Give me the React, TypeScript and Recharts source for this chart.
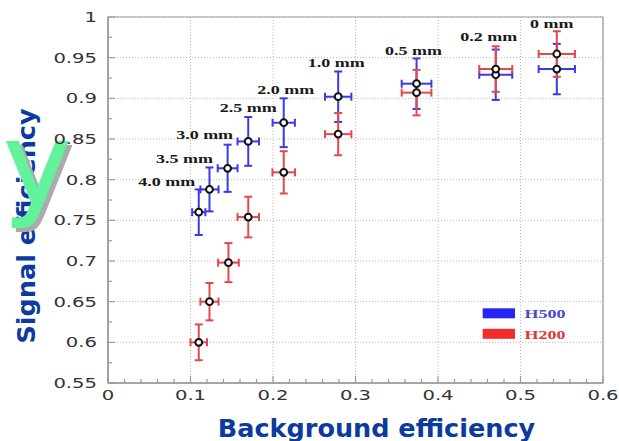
import React from 'react';
import {
  ScatterChart,
  Scatter,
  XAxis,
  YAxis,
  CartesianGrid,
  ErrorBar,
  ReferenceArea,
  Legend,
} from 'recharts';

// Distance-cut labels, one per working point
const gapTags = ['4.0 mm', '3.5 mm', '3.0 mm', '2.5 mm', '2.0 mm', '1.0 mm', '0.5 mm', '0.2 mm', '0 mm'];

// H500 sample
const bgH500 = [0.11, 0.123, 0.145, 0.17, 0.213, 0.279, 0.374, 0.47, 0.544];
const bgErrH500 = [0.008, 0.011, 0.012, 0.013, 0.0135, 0.016, 0.018, 0.02, 0.022];
const sigH500 = [0.76, 0.788, 0.814, 0.847, 0.87, 0.902, 0.918, 0.929, 0.936];
const sigErrH500 = [0.028, 0.027, 0.029, 0.03, 0.03, 0.031, 0.031, 0.031, 0.031];

// H200 sample
const bgH200 = [0.11, 0.123, 0.146, 0.17, 0.213, 0.279, 0.374, 0.47, 0.544];
const bgErrH200 = [0.01, 0.011, 0.0125, 0.013, 0.0137, 0.016, 0.018, 0.02, 0.022];
const sigH200 = [0.6, 0.65, 0.698, 0.754, 0.809, 0.856, 0.907, 0.936, 0.9545];
const sigErrH200 = [0.022, 0.023, 0.024, 0.025, 0.026, 0.026, 0.028, 0.028, 0.028];

// Legend order
const seriesNames = ['H500', 'H200'];

// Axis ticks
const xMajorTicks = [0, 0.1, 0.2, 0.3, 0.4, 0.5, 0.6];
const xTickLabels = ['0', '0.1', '0.2', '0.3', '0.4', '0.5', '0.6'];
const xMinorTicks = [
  0.02, 0.04, 0.06, 0.08, 0.12, 0.14, 0.16, 0.18, 0.22, 0.24, 0.26, 0.28,
  0.32, 0.34, 0.36, 0.38, 0.42, 0.44, 0.46, 0.48, 0.52, 0.54, 0.56, 0.58,
];
const yMajorTicks = [0.55, 0.6, 0.65, 0.7, 0.75, 0.8, 0.85, 0.9, 0.95, 1];
const yTickLabels = ['0.55', '0.6', '0.65', '0.7', '0.75', '0.8', '0.85', '0.9', '0.95', '1'];
const yMinorTicks = [0.575, 0.625, 0.675, 0.725, 0.775, 0.825, 0.875, 0.925, 0.975];

const SERIES_COLORS: Record<string, string> = { H500: '#3a3ae6', H200: '#e6474c' };
const LEGEND_COLORS: Record<string, string> = { H500: '#2424f5', H200: '#f52a2e' };
const LEGEND_TEXT: Record<string, string> = { H500: '#4a4ad0', H200: '#e0383c' };
const AXIS_COLOR = '#9a9a9a';
const TITLE_COLOR = '#0b3b9c';

// Text placement of each distance tag relative to its H500 point (px)
const TAG_OFFSET: Record<string, [number, number]> = {
  '4.0 mm': [-32, -30],
  '3.5 mm': [-25, -30],
  '3.0 mm': [-23, -33],
  '2.5 mm': [0, -33],
  '2.0 mm': [2, -33],
  '1.0 mm': [-2, -34],
  '0.5 mm': [-3, -33],
  '0.2 mm': [-7, -38],
  '0 mm': [-5, -45],
};

const h500Data = gapTags.map((tag, i) => ({
  tag,
  bg: bgH500[i],
  bgErr: bgErrH500[i],
  sig: sigH500[i],
  sigErr: sigErrH500[i],
}));

const h200Data = gapTags.map((tag, i) => ({
  tag,
  bg: bgH200[i],
  bgErr: bgErrH200[i],
  sig: sigH200[i],
  sigErr: sigErrH200[i],
}));

const xTicks = [...xMajorTicks, ...xMinorTicks].sort((a, b) => a - b);
const yTicks = [...yMajorTicks, ...yMinorTicks].sort((a, b) => a - b);

const tickFont = { fontFamily: 'DejaVu Sans, Verdana, sans-serif', fontSize: 14, fill: '#333' };

const XTick = (props: any) => {
  const { x, y, payload } = props;
  const i = xMajorTicks.indexOf(payload.value);
  if (i < 0) {
    return <line x1={x} x2={x} y1={y} y2={y - 4} stroke={AXIS_COLOR} strokeWidth={1.2} />;
  }
  return (
    <g>
      <line x1={x} x2={x} y1={y} y2={y - 7} stroke={AXIS_COLOR} strokeWidth={1.2} />
      <text transform={`translate(${x},${y + 16.5}) scale(1.4,1)`} textAnchor="middle" {...tickFont}>
        {xTickLabels[i]}
      </text>
    </g>
  );
};

const YTick = (props: any) => {
  const { x, y, payload } = props;
  const i = yMajorTicks.indexOf(payload.value);
  if (i < 0) {
    return <line x1={x} x2={x + 4} y1={y} y2={y} stroke={AXIS_COLOR} strokeWidth={1.2} />;
  }
  return (
    <g>
      <line x1={x} x2={x + 7} y1={y} y2={y} stroke={AXIS_COLOR} strokeWidth={1.2} />
      <text transform={`translate(${x - 11},${y + 5}) scale(1.4,1)`} textAnchor="end" {...tickFont}>
        {yTickLabels[i]}
      </text>
    </g>
  );
};

const Empty = () => <g />;

const Ring = (props: any) => (
  <circle cx={props.cx} cy={props.cy} r={3.4} fill="#fff" stroke="#111" strokeWidth={2} />
);

const RingWithTag = (props: any) => {
  const { cx, cy, payload } = props;
  const [dx, dy] = TAG_OFFSET[payload.tag] ?? [0, -30];
  return (
    <g>
      <Ring cx={cx} cy={cy} />
      <text
        transform={`translate(${cx + dx},${cy + dy + 4}) scale(1.5,1)`}
        textAnchor="middle"
        fontFamily="Liberation Serif, Times New Roman, serif"
        fontWeight="bold"
        fontSize={12}
        fill="#1a1a1a"
      >
        {payload.tag}
      </text>
    </g>
  );
};

const XTitle = (props: any) => {
  const vb = props.viewBox;
  return (
    <text
      x={vb.x + vb.width / 2 + 21}
      y={vb.y + 54}
      textAnchor="middle"
      fontFamily="DejaVu Sans, Verdana, sans-serif"
      fontWeight="bold"
      fontSize={25.5}
      fill={TITLE_COLOR}
    >
      Background efficiency
    </text>
  );
};

const YTitle = (props: any) => {
  const vb = props.viewBox;
  const cy = vb.y + vb.height / 2 + 26;
  return (
    <g>
      <text
        transform={`translate(34.5,${cy}) rotate(-90)`}
        textAnchor="middle"
        fontFamily="DejaVu Sans, Verdana, sans-serif"
        fontWeight="bold"
        fontSize={25.5}
        fill={TITLE_COLOR}
      >
        Signal efficiency
      </text>
      <text x={8} y={208} fontFamily="DejaVu Sans, sans-serif" fontSize={112} fill="#ababab" stroke="#ababab" strokeWidth={2}>
        y
      </text>
      <text x={4} y={204} fontFamily="DejaVu Sans, sans-serif" fontSize={112} fill="#62f29c" stroke="#62f29c" strokeWidth={2}>
        y
      </text>
    </g>
  );
};

const LegendBox = (props: any) => {
  const entries = (props.payload || []).filter((p: any) => p.type !== 'none');
  const items = seriesNames
    .map((name) => entries.find((p: any) => p.value === name))
    .filter(Boolean);
  return (
    <svg width={110} height={42} style={{ display: 'block' }}>
      {items.map((p: any, i: number) => (
        <g key={p.value} transform={`translate(0,${i * 20.5})`}>
          <rect x={0.7} y={2.3} width={32.3} height={10} fill={LEGEND_COLORS[p.value] ?? p.color} />
          <text
            transform={`translate(42.5,12.3) scale(1.5,1)`}
            fontFamily="Liberation Serif, Times New Roman, serif"
            fontWeight="bold"
            fontSize={12}
            fill={LEGEND_TEXT[p.value] ?? p.color}
          >
            {p.value}
          </text>
        </g>
      ))}
    </svg>
  );
};

export default function App() {
  return (
    <div style={{ width: 619, height: 441, background: '#fff' }}>
      <style>{`body{margin:0;background:#fff}`}</style>
      <ScatterChart width={619} height={441} margin={{ top: 17, right: 16, bottom: 0, left: 0 }}>
        <CartesianGrid
          stroke="#b8b8b8"
          strokeDasharray="1 2"
          horizontalValues={yMajorTicks}
          verticalValues={xMajorTicks}
        />
        <XAxis
          type="number"
          dataKey="bg"
          domain={[0, 0.6]}
          ticks={xTicks}
          interval={0}
          height={58}
          tickSize={0}
          tickMargin={0}
          tick={<XTick />}
          axisLine={{ stroke: AXIS_COLOR, strokeWidth: 1.5 }}
          tickLine={false}
          allowDataOverflow
          label={{ content: <XTitle /> }}
        />
        <YAxis
          type="number"
          dataKey="sig"
          domain={[0.55, 1]}
          ticks={yTicks}
          interval={0}
          width={108}
          tickSize={0}
          tickMargin={0}
          tick={<YTick />}
          axisLine={{ stroke: AXIS_COLOR, strokeWidth: 1.5 }}
          tickLine={false}
          allowDataOverflow
          label={{ content: <YTitle /> }}
        />
        <ReferenceArea x1={0} x2={0.6} y1={0.55} y2={1} fill="none" stroke={AXIS_COLOR} strokeWidth={1.2} />

        <Scatter data={h500Data} legendType="none" shape={<Empty />} isAnimationActive={false}>
          <ErrorBar dataKey="sigErr" direction="y" width={4} stroke={SERIES_COLORS.H500} strokeWidth={2} />
          <ErrorBar dataKey="bgErr" direction="x" width={4} stroke={SERIES_COLORS.H500} strokeWidth={2} />
        </Scatter>
        <Scatter data={h200Data} legendType="none" shape={<Empty />} isAnimationActive={false}>
          <ErrorBar dataKey="sigErr" direction="y" width={4} stroke={SERIES_COLORS.H200} strokeWidth={2} />
          <ErrorBar dataKey="bgErr" direction="x" width={4} stroke={SERIES_COLORS.H200} strokeWidth={2} />
        </Scatter>
        <Scatter name="H500" data={h500Data} fill={SERIES_COLORS.H500} legendType="rect" shape={<RingWithTag />} isAnimationActive={false} />
        <Scatter name="H200" data={h200Data} fill={SERIES_COLORS.H200} legendType="rect" shape={<Ring />} isAnimationActive={false} />

        <Legend
          layout="vertical"
          align="center"
          verticalAlign="middle"
          content={<LegendBox />}
          wrapperStyle={{ position: 'absolute', left: 482, top: 306, width: 110, height: 42 }}
        />
      </ScatterChart>
    </div>
  );
}
